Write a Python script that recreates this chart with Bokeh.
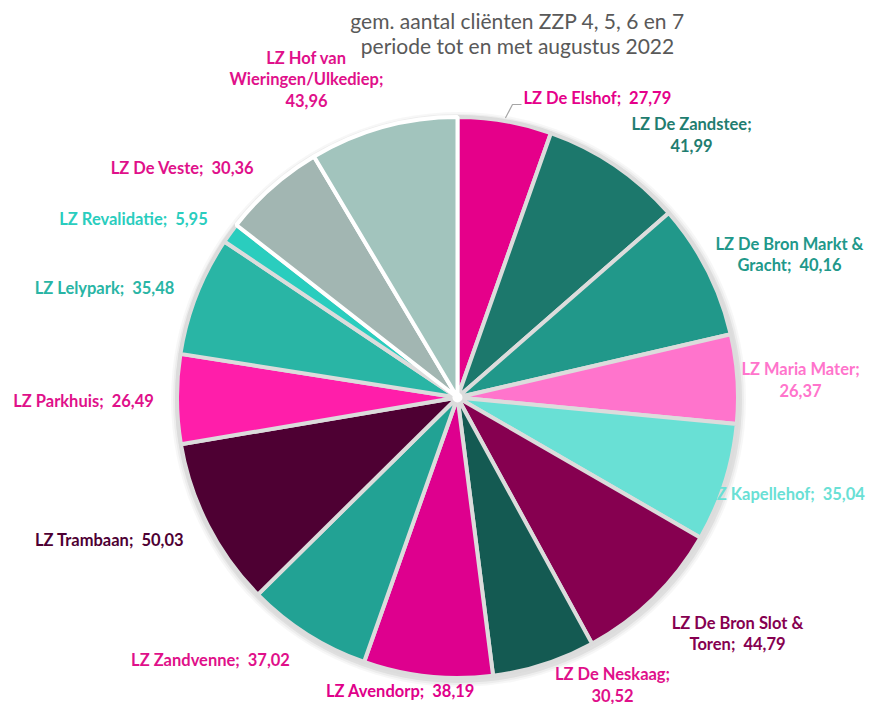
import numpy as np
from bokeh.plotting import figure
from bokeh.models import Range1d
from bokeh.core.properties import value
from bokeh.embed import file_html
from bokeh.resources import INLINE

# ---------------- data ----------------
names = ["LZ De Elshof", "LZ De Zandstee", "LZ De Bron Markt & Gracht", "LZ Maria Mater",
         "LZ Kapellehof", "LZ De Bron Slot & Toren", "LZ De Neskaag", "LZ Avendorp",
         "LZ Zandvenne", "LZ Trambaan", "LZ Parkhuis", "LZ Lelypark", "LZ Revalidatie",
         "LZ De Veste", "LZ Hof van Wieringen/Ulkediep"]
values = [27.79, 41.99, 40.16, 26.37, 35.04, 44.79, 30.52, 38.19,
          37.02, 50.03, 26.49, 35.48, 5.95, 30.36, 43.96]
title_lines = ["gem. aantal cliënten ZZP 4, 5, 6 en 7", "periode tot en met augustus 2022"]

# ---------------- styles ----------------
slice_colors = ["#E5008A", "#1C786C", "#21988A", "#FF74CC", "#69E0D5", "#860050", "#145A52",
                "#DE008E", "#22A294", "#4E0033", "#FF1EAA", "#29B5A5", "#2ACDBE", "#A2B6B2",
                "#A2C4BD"]
border_colors = ["#DCDCDC"] * 13 + ["#FFFFFF", "#FFFFFF"]
label_colors = ["#E5008A", "#1F7D70", "#21988A", "#FF74CC", "#69E0D5", "#860050", "#E0108A",
                "#E0008A", "#E0108A", "#4E0033", "#E0108A", "#29B5A5", "#2ACDBE", "#E0108A",
                "#E0108A"]
# words per line of "name;  value"
wraps = [[5], [3, 1], [5, 2], [3, 1], [3], [5, 2], [3, 1], [3], [3], [3], [3], [3], [3], [4], [3, 1, 1]]
# label layout in page pixels: (x, y of first line, align)
label_pos = [(523, 97, "left"), (691, 123, "center"), (789, 243, "center"), (800, 368, "center"),
             (786, 493, "center"), (737, 622, "center"), (612, 673, "center"), (400, 690, "center"),
             (210, 659, "center"), (109, 539, "center"), (83, 400, "center"), (104, 287, "center"),
             (133, 218, "center"), (182, 167, "center"), (306, 57, "center")]
LINE_H = 21.5
CX, CY, R = 457, 397, 280.5
W, H = 867, 704
SEP = "\u00a0\u00a0"

def X(px):
    return px - CX

def Y(py):
    return CY - py

p = figure(width=W, height=H, output_backend="svg", toolbar_location=None,
           x_axis_location=None, y_axis_location=None, min_border=0,
           x_range=Range1d(-CX, W - CX), y_range=Range1d(CY - H, CY))
p.grid.visible = False
p.outline_line_color = None
p.background_fill_color = "white"
p.border_fill_color = "white"

vals = np.array(values)
frac = vals / vals.sum()
cum_end = np.cumsum(frac)
cum_start = cum_end - frac
start_ang = np.pi / 2 - 2 * np.pi * cum_end
end_ang = np.pi / 2 - 2 * np.pi * cum_start

# soft shadow
for rr, a in [(R + 7, 0.03), (R + 5, 0.04), (R + 3, 0.06)]:
    p.circle(x=[1], y=[-2], radius=rr, fill_color="#000000", fill_alpha=a, line_color=None)

for i in range(len(values)):
    p.wedge(x=0, y=0, radius=R, start_angle=start_ang[i], end_angle=end_ang[i],
            direction="anticlock", fill_color=slice_colors[i], line_color=border_colors[i],
            line_width=4)
p.circle(x=[0], y=[0], radius=5, fill_color="white", line_color=None)

# labels
for i, name in enumerate(names):
    v = f"{values[i]:.2f}".replace(".", ",")
    tokens = name.split() + [v]
    tokens[-2] = tokens[-2] + ";"
    lines, k = [], 0
    for n in wraps[i]:
        chunk = tokens[k:k + n]
        k += n
        s = ""
        for j, t in enumerate(chunk):
            if j == 0:
                s = t
            elif t == v:
                s += SEP + t
            else:
                s += " " + t
        lines.append(s)
    lx, ly, al = label_pos[i]
    for j, s in enumerate(lines):
        p.text(x=[X(lx)], y=[Y(ly + j * LINE_H)], text=[s], text_align=al,
               text_baseline="middle", text_color=label_colors[i],
               text_font=value("Lato"), text_font_style="bold", text_font_size="16.5px")

# leader line for first label
mid = (start_ang[0] + end_ang[0]) / 2
lx, ly, _ = label_pos[0]
p.line(x=[(R + 3) * np.cos(mid), X(lx - 11), X(lx - 2)],
       y=[(R + 3) * np.sin(mid), Y(ly + 7), Y(ly + 7)], line_color="#A6A6A6", line_width=1.2)

# title
for j, s in enumerate(title_lines):
    p.text(x=[X(517)], y=[Y(20 + j * 25)], text=[s], text_align="center", text_baseline="middle",
           text_color="#595959", text_font=value("Lato"), text_font_size="21px")

open("out.html", "w").write(file_html(p, INLINE))
